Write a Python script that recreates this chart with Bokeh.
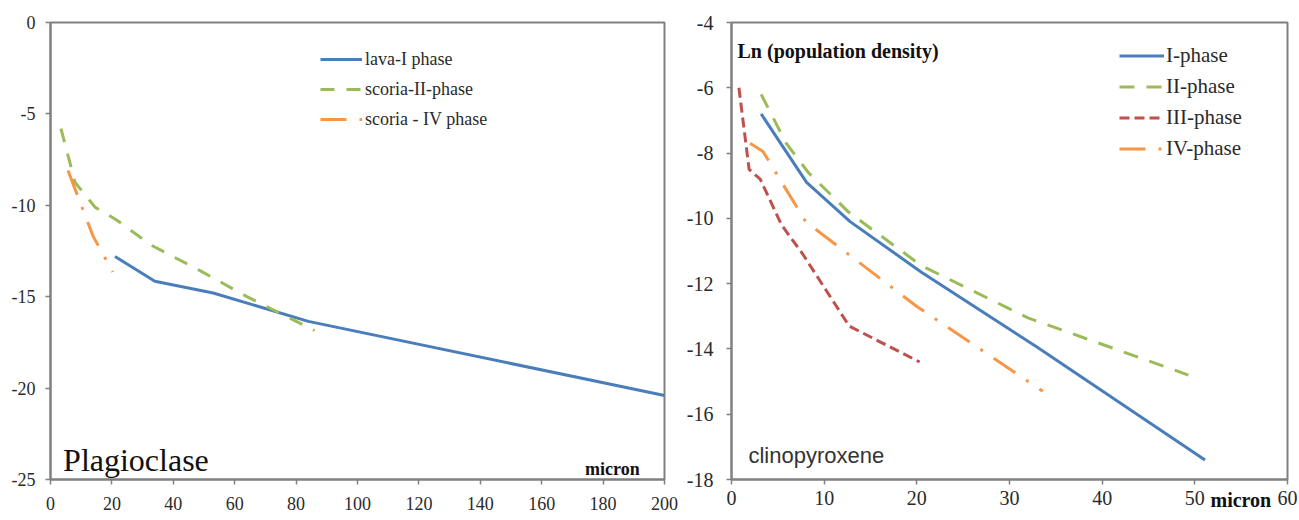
from bokeh.plotting import figure
from bokeh.models import Range1d, Label, Legend, LegendItem, FixedTicker
from bokeh.layouts import row
from bokeh.embed import file_html
from bokeh.resources import INLINE

# ---- Plagioclase (left panel) ----
plag_lava_I_x = [21, 34, 53, 84, 200]
plag_lava_I_y = [-12.8, -14.15, -14.8, -16.35, -20.4]
plag_scoria_II_x = [3.4, 8, 14.5, 21.5, 33, 49, 64, 86]
plag_scoria_II_y = [-5.8, -8.75, -10.1, -10.8, -12.2, -13.6, -15.0, -16.85]
plag_scoria_IV_x = [5.7, 13.9, 20.3]
plag_scoria_IV_y = [-8.1, -11.7, -13.65]
plag_xticks = [0, 20, 40, 60, 80, 100, 120, 140, 160, 180, 200]
plag_yticks = [-25, -20, -15, -10, -5, 0]

# ---- Clinopyroxene (right panel) ----
cpx_I_x = [3.2, 8.1, 12.8, 20.5, 33, 51.1]
cpx_I_y = [-6.8, -8.9, -10.1, -11.65, -13.95, -17.4]
cpx_II_x = [3.2, 5.9, 8.3, 12.6, 20.5, 32, 49.3]
cpx_II_y = [-6.2, -7.7, -8.6, -9.8, -11.45, -13.05, -14.8]
cpx_III_x = [0.8, 1.9, 3.1, 5.4, 7.7, 12.7, 20.3]
cpx_III_y = [-6.0, -8.5, -8.8, -10.2, -11.1, -13.3, -14.4]
cpx_IV_x = [2.0, 3.4, 8.0, 20.0, 33.6]
cpx_IV_y = [-7.7, -7.95, -10.1, -12.7, -15.3]
cpx_xticks = [0, 10, 20, 30, 40, 50, 60]
cpx_yticks = [-18, -16, -14, -12, -10, -8, -6, -4]

BLUE = "#4A7EBB"
GREEN = "#9BBB59"
RED = "#C0504D"
ORANGE = "#F79646"
AXIS = "#808080"
TXT = "#2a2a2a"
SERIF = "Liberation Serif"


def style(p, xticks, yticks, fs, lstand, bstand):
    p.xaxis.ticker = FixedTicker(ticks=xticks)
    p.yaxis.ticker = FixedTicker(ticks=yticks)
    p.xaxis[0].major_label_overrides = {t: str(t) for t in xticks}
    p.yaxis[0].major_label_overrides = {t: str(t) for t in yticks}
    p.xgrid.visible = False
    p.ygrid.visible = False
    for ax in (p.xaxis[0], p.yaxis[0]):
        ax.axis_line_color = AXIS
        ax.axis_line_width = 2
        ax.major_tick_line_color = AXIS
        ax.major_tick_line_width = 1.5
        ax.major_tick_in = 0
        ax.major_tick_out = 5
        ax.minor_tick_line_color = None
        ax.major_label_text_font = SERIF
        ax.major_label_text_font_size = fs
        ax.major_label_text_color = TXT
    p.yaxis[0].major_label_standoff = lstand
    p.xaxis[0].major_label_standoff = bstand
    p.outline_line_color = AXIS
    p.outline_line_width = 2
    p.background_fill_color = "white"
    p.border_fill_color = "white"


# ---------------- left figure ----------------
p1 = figure(width=680, height=518, output_backend="svg", toolbar_location=None,
            x_range=Range1d(0, 200), y_range=Range1d(-25, 0),
            min_border_left=50, min_border_right=16, min_border_top=19, min_border_bottom=39)
style(p1, plag_xticks, plag_yticks, "18px", 10, 12)

r1 = p1.line(plag_lava_I_x, plag_lava_I_y, line_color=BLUE, line_width=3, line_join="round")
r2 = p1.line(plag_scoria_II_x, plag_scoria_II_y, line_color=GREEN, line_width=3,
             line_dash="14 12")
r3 = p1.line(plag_scoria_IV_x, plag_scoria_IV_y, line_color=ORANGE, line_width=3,
             line_dash="26 13 3 13")

leg1 = Legend(items=[LegendItem(label="lava-I phase", renderers=[r1]),
                     LegendItem(label="scoria-II-phase", renderers=[r2]),
                     LegendItem(label="scoria - IV phase", renderers=[r3])],
              location=(270, 345), padding=0, margin=0, spacing=0,
              glyph_width=42, glyph_height=30, label_height=30, label_standoff=3,
              label_text_font=SERIF, label_text_font_size="18px", label_text_color=TXT,
              background_fill_alpha=0, border_line_alpha=0)
p1.add_layout(leg1)

p1.add_layout(Label(x=4.1, y=-23.96, text="Plagioclase", text_font=SERIF,
                    text_font_size="32px", text_color="#111111", text_baseline="alphabetic"))
p1.add_layout(Label(x=174.1, y=-24.4, text="micron", text_font=SERIF,
                    text_font_size="18px", text_font_style="bold", text_color="#111111",
                    text_baseline="alphabetic"))

# ---------------- right figure ----------------
p2 = figure(width=618, height=518, output_backend="svg", toolbar_location=None,
            x_range=Range1d(0, 60), y_range=Range1d(-18, -4),
            min_border_left=51, min_border_right=11, min_border_top=19, min_border_bottom=35)
style(p2, cpx_xticks, cpx_yticks, "20px", 13, 6)

s1 = p2.line(cpx_I_x, cpx_I_y, line_color=BLUE, line_width=3, line_join="round")
s2 = p2.line(cpx_II_x, cpx_II_y, line_color=GREEN, line_width=3, line_dash="15 12")
s3 = p2.line(cpx_III_x, cpx_III_y, line_color=RED, line_width=3, line_dash="10 5")
s4 = p2.line(cpx_IV_x, cpx_IV_y, line_color=ORANGE, line_width=3, line_dash="26 13 3 13")

leg2 = Legend(items=[LegendItem(label="I-phase", renderers=[s1]),
                     LegendItem(label="II-phase", renderers=[s2]),
                     LegendItem(label="III-phase", renderers=[s3]),
                     LegendItem(label="IV-phase", renderers=[s4])],
              location=(388, 315), padding=0, margin=0, spacing=0,
              glyph_width=45, glyph_height=31, label_height=31, label_standoff=2,
              label_text_font=SERIF, label_text_font_size="21px", label_text_color=TXT,
              background_fill_alpha=0, border_line_alpha=0)
p2.add_layout(leg2)

p2.add_layout(Label(x=0.65, y=-4.88, text="Ln (population density)", text_font=SERIF,
                    text_font_size="20px", text_font_style="bold", text_color="#111111",
                    text_baseline="alphabetic"))
p2.add_layout(Label(x=1.83, y=-17.25, text="clinopyroxene", text_font="Liberation Sans",
                    text_font_size="22px", text_color="#333333", text_baseline="alphabetic"))
# "micron" sits below the frame; a side-panel label is not clipped to the frame.
# The top border is spare room, so the panel does not shrink the frame.
p2.add_layout(Label(x=479, y=-477, x_units="screen", y_units="screen",
                    text="micron", text_font=SERIF,
                    text_font_size="20px", text_font_style="bold", text_color="#111111",
                    text_baseline="alphabetic"), "above")

layout = row(p1, p2)
open("out.html", "w").write(file_html(layout, INLINE))
